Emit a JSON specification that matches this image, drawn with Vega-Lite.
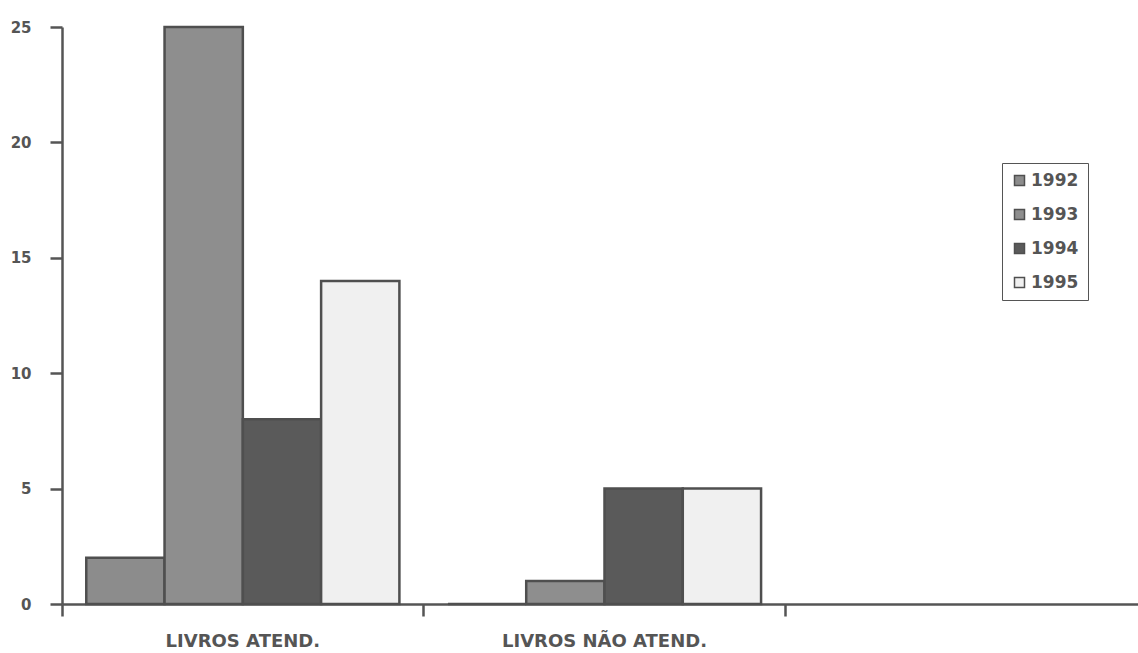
{
  "$schema": "https://vega.github.io/schema/vega-lite/v6.json",
  "autosize": {"type": "none"},
  "width": 1085,
  "height": 577,
  "padding": {"left": 62, "top": 27, "right": 0, "bottom": 49},
  "background": "#ffffff",
  "config": {
    "view": {"stroke": null},
    "font": "DejaVu Sans"
  },
  "data": {
    "values": [
      {"categoria": "LIVROS ATEND.", "ano": "1992", "valor": 2},
      {"categoria": "LIVROS ATEND.", "ano": "1993", "valor": 25},
      {"categoria": "LIVROS ATEND.", "ano": "1994", "valor": 8},
      {"categoria": "LIVROS ATEND.", "ano": "1995", "valor": 14},
      {"categoria": "LIVROS NÃO ATEND.", "ano": "1992", "valor": 0},
      {"categoria": "LIVROS NÃO ATEND.", "ano": "1993", "valor": 1},
      {"categoria": "LIVROS NÃO ATEND.", "ano": "1994", "valor": 5},
      {"categoria": "LIVROS NÃO ATEND.", "ano": "1995", "valor": 5}
    ]
  },
  "mark": {"type": "bar", "stroke": "#4f4f4f", "strokeWidth": 2.5},
  "encoding": {
    "x": {
      "field": "categoria",
      "type": "nominal",
      "sort": null,
      "scale": {"domain": ["LIVROS ATEND.", "LIVROS NÃO ATEND.", " "], "paddingInner": 0, "paddingOuter": 0},
      "axis": {
        "title": null,
        "bandPosition": 0,
        "labelAngle": 0,
        "labelLimit": 0,
        "labelFont": "DejaVu Sans",
        "labelFontWeight": "bold",
        "labelFontSize": 18,
        "labelColor": "#555555",
        "labelPadding": 16,
        "domainColor": "#555555",
        "domainWidth": 2.5,
        "tickColor": "#555555",
        "tickWidth": 2.5,
        "tickSize": 12,
        "grid": false
      }
    },
    "xOffset": {
      "field": "ano",
      "type": "nominal",
      "scale": {"paddingInner": 0, "paddingOuter": 0.31}
    },
    "y": {
      "field": "valor",
      "type": "quantitative",
      "scale": {"domain": [0, 25], "nice": false},
      "axis": {
        "title": null,
        "values": [0, 5, 10, 15, 20, 25],
        "grid": false,
        "labelFont": "DejaVu Sans",
        "labelFontWeight": "bold",
        "labelFontSize": 15,
        "labelColor": "#555555",
        "labelPadding": 19,
        "domainColor": "#555555",
        "domainWidth": 2.5,
        "tickColor": "#555555",
        "tickWidth": 2.5,
        "tickSize": 12
      }
    },
    "fill": {
      "field": "ano",
      "type": "nominal",
      "scale": {"domain": ["1992", "1993", "1994", "1995"], "range": ["#8c8c8c", "#8e8e8e", "#5a5a5a", "#f0f0f0"]},
      "legend": {
        "title": null,
        "orient": "none",
        "legendX": 940,
        "legendY": 136,
        "symbolType": "square",
        "symbolSize": 100,
        "symbolStrokeColor": "#4f4f4f",
        "symbolStrokeWidth": 1.5,
        "labelFont": "DejaVu Sans",
        "labelFontWeight": "bold",
        "labelFontSize": 17,
        "labelColor": "#555555",
        "labelOffset": 3,
        "rowPadding": 16,
        "padding": 9,
        "strokeColor": "#555555",
        "fillColor": "#ffffff"
      }
    }
  }
}
